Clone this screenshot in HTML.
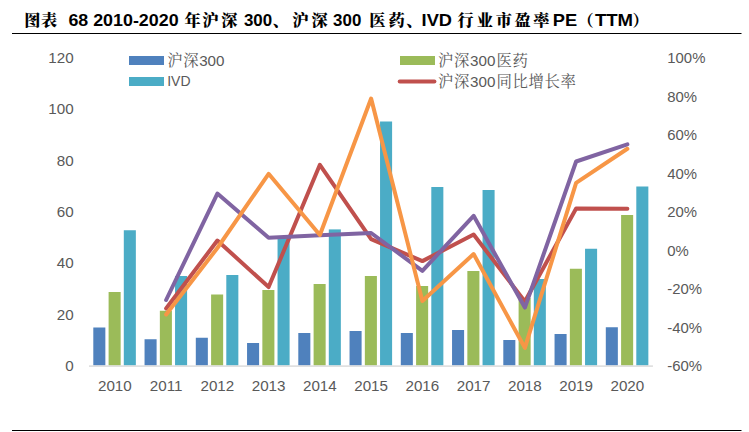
<!DOCTYPE html>
<html lang="zh-CN">
<head>
<meta charset="utf-8">
<title>图表 68 2010-2020 年沪深 300、沪深 300 医药、IVD 行业市盈率 PE（TTM）</title>
<style>
html,body{margin:0;padding:0;background:#fff;}
body{width:749px;height:432px;overflow:hidden;position:relative;}
svg{position:absolute;left:0;top:0;display:block;}
.t{font-weight:bold;fill:#000;font-size:17.3px;}
.a{font-family:"Liberation Sans",sans-serif;}
.k{font-family:"Liberation Serif","Noto Serif CJK SC",serif;font-weight:900;font-size:16.2px;}
.ax{font-family:"Liberation Sans",sans-serif;font-size:15.2px;fill:#595959;}
.lg{font-family:"Liberation Sans","Noto Serif CJK SC",sans-serif;font-size:15.2px;fill:#595959;}
.lk{font-family:"Noto Serif CJK SC",serif;font-size:15.4px;letter-spacing:0.6px;}
</style>
</head>
<body>
<svg width="749" height="432" viewBox="0 0 749 432">
<rect width="749" height="432" fill="#ffffff"/>
<text class="t"><tspan class="k" text-anchor="middle" x="32.25 51.2" y="26.4">图表</tspan> <tspan class="a" text-anchor="start" x="68.4" y="25.8" textLength="19.8" lengthAdjust="spacingAndGlyphs">68</tspan> <tspan class="a" text-anchor="start" x="93.2" y="25.8" textLength="85.4" lengthAdjust="spacingAndGlyphs">2010-2020</tspan> <tspan class="k" text-anchor="middle" x="192.5 210.25 231.4" y="26.4">年沪深</tspan> <tspan class="a" text-anchor="start" x="243.9" y="25.8" textLength="28.2" lengthAdjust="spacingAndGlyphs">300</tspan><tspan class="k" text-anchor="start" x="272.8" y="26.4">、</tspan><tspan class="k" text-anchor="middle" x="300.25 321.7" y="26.4">沪深</tspan> <tspan class="a" text-anchor="start" x="333.1" y="25.8" textLength="28.2" lengthAdjust="spacingAndGlyphs">300</tspan> <tspan class="k" text-anchor="middle" x="377.25 396.5" y="26.4">医药</tspan><tspan class="k" text-anchor="start" x="406.2" y="26.4">、</tspan><tspan class="a" text-anchor="start" x="421.6" y="25.8" textLength="30.4" lengthAdjust="spacingAndGlyphs">IVD</tspan> <tspan class="k" text-anchor="middle" x="465.5 484.75 503.75 522.5 543.6" y="26.4">行业市盈率</tspan> <tspan class="a" text-anchor="start" x="552.8" y="25.8" textLength="24.4" lengthAdjust="spacingAndGlyphs">PE</tspan><tspan class="k" text-anchor="end" x="593.8" y="26.4">（</tspan><tspan class="a" text-anchor="start" x="594.9" y="25.8" textLength="38.2" lengthAdjust="spacingAndGlyphs">TTM</tspan><tspan class="k" text-anchor="start" x="632.6" y="26.4">）</tspan></text>
<rect x="12" y="33" width="729.5" height="1" fill="#000"/>
<rect x="12" y="430" width="729.5" height="1" fill="#000"/>
<rect x="93.30" y="327.50" width="12.05" height="37.90" fill="#4f81bd"/>
<rect x="108.60" y="292.00" width="12.05" height="73.40" fill="#9bbb59"/>
<rect x="123.80" y="230.25" width="12.05" height="135.15" fill="#4bacc6"/>
<rect x="144.55" y="339.25" width="12.05" height="26.15" fill="#4f81bd"/>
<rect x="159.85" y="310.75" width="12.05" height="54.65" fill="#9bbb59"/>
<rect x="175.05" y="276.00" width="12.05" height="89.40" fill="#4bacc6"/>
<rect x="195.80" y="337.75" width="12.05" height="27.65" fill="#4f81bd"/>
<rect x="211.10" y="294.50" width="12.05" height="70.90" fill="#9bbb59"/>
<rect x="226.30" y="275.00" width="12.05" height="90.40" fill="#4bacc6"/>
<rect x="247.05" y="343.00" width="12.05" height="22.40" fill="#4f81bd"/>
<rect x="262.35" y="290.00" width="12.05" height="75.40" fill="#9bbb59"/>
<rect x="277.55" y="237.50" width="12.05" height="127.90" fill="#4bacc6"/>
<rect x="298.30" y="333.00" width="12.05" height="32.40" fill="#4f81bd"/>
<rect x="313.60" y="284.00" width="12.05" height="81.40" fill="#9bbb59"/>
<rect x="328.80" y="229.40" width="12.05" height="136.00" fill="#4bacc6"/>
<rect x="349.55" y="331.00" width="12.05" height="34.40" fill="#4f81bd"/>
<rect x="364.85" y="276.00" width="12.05" height="89.40" fill="#9bbb59"/>
<rect x="380.05" y="121.50" width="12.05" height="243.90" fill="#4bacc6"/>
<rect x="400.80" y="333.00" width="12.05" height="32.40" fill="#4f81bd"/>
<rect x="416.10" y="286.00" width="12.05" height="79.40" fill="#9bbb59"/>
<rect x="431.30" y="187.00" width="12.05" height="178.40" fill="#4bacc6"/>
<rect x="452.05" y="330.00" width="12.05" height="35.40" fill="#4f81bd"/>
<rect x="467.35" y="271.00" width="12.05" height="94.40" fill="#9bbb59"/>
<rect x="482.55" y="190.00" width="12.05" height="175.40" fill="#4bacc6"/>
<rect x="503.30" y="340.00" width="12.05" height="25.40" fill="#4f81bd"/>
<rect x="518.60" y="298.00" width="12.05" height="67.40" fill="#9bbb59"/>
<rect x="533.80" y="279.00" width="12.05" height="86.40" fill="#4bacc6"/>
<rect x="554.55" y="334.00" width="12.05" height="31.40" fill="#4f81bd"/>
<rect x="569.85" y="268.75" width="12.05" height="96.65" fill="#9bbb59"/>
<rect x="585.05" y="248.75" width="12.05" height="116.65" fill="#4bacc6"/>
<rect x="605.80" y="327.25" width="12.05" height="38.15" fill="#4f81bd"/>
<rect x="621.10" y="215.00" width="12.05" height="150.40" fill="#9bbb59"/>
<rect x="636.30" y="186.50" width="12.05" height="178.90" fill="#4bacc6"/>
<rect x="89.00" y="365.40" width="563.95" height="1.4" fill="#d9d9d9"/>
<polyline points="166.12,308.50 217.38,240.50 268.62,287.10 319.88,164.80 371.12,239.20 422.38,261.10 473.62,234.50 524.88,301.50 576.12,208.50 627.38,208.75" fill="none" stroke="#c0504d" stroke-width="4" stroke-linecap="round" stroke-linejoin="round"/>
<polyline points="166.12,300.00 217.38,193.60 268.62,237.80 319.88,235.30 371.12,233.00 422.38,270.80 473.62,215.80 524.88,307.60 576.12,161.50 627.38,144.30" fill="none" stroke="#8064a2" stroke-width="4" stroke-linecap="round" stroke-linejoin="round"/>
<polyline points="166.12,314.50 217.38,248.00 268.62,173.80 319.88,235.00 371.12,98.50 422.38,301.00 473.62,254.00 524.88,347.90 576.12,182.80 627.38,148.75" fill="none" stroke="#f79646" stroke-width="4" stroke-linecap="round" stroke-linejoin="round"/>
<text class="ax" text-anchor="end" x="73.7" y="371.00">0</text>
<text class="ax" text-anchor="end" x="73.7" y="319.67">20</text>
<text class="ax" text-anchor="end" x="73.7" y="268.33">40</text>
<text class="ax" text-anchor="end" x="73.7" y="217.00">60</text>
<text class="ax" text-anchor="end" x="73.7" y="165.66">80</text>
<text class="ax" text-anchor="end" x="73.7" y="114.33">100</text>
<text class="ax" text-anchor="end" x="73.7" y="63.00">120</text>
<text class="ax" style="font-size:14.9px" x="667.3" y="371.05">-60%</text>
<text class="ax" style="font-size:14.9px" x="667.3" y="332.58">-40%</text>
<text class="ax" style="font-size:14.9px" x="667.3" y="294.11">-20%</text>
<text class="ax" style="font-size:14.9px" x="667.3" y="255.64">0%</text>
<text class="ax" style="font-size:14.9px" x="667.3" y="217.17">20%</text>
<text class="ax" style="font-size:14.9px" x="667.3" y="178.70">40%</text>
<text class="ax" style="font-size:14.9px" x="667.3" y="140.23">60%</text>
<text class="ax" style="font-size:14.9px" x="667.3" y="101.76">80%</text>
<text class="ax" style="font-size:14.9px" x="667.3" y="63.29">100%</text>
<text class="ax" text-anchor="middle" x="114.88" y="390.7">2010</text>
<text class="ax" text-anchor="middle" x="166.12" y="390.7">2011</text>
<text class="ax" text-anchor="middle" x="217.38" y="390.7">2012</text>
<text class="ax" text-anchor="middle" x="268.62" y="390.7">2013</text>
<text class="ax" text-anchor="middle" x="319.88" y="390.7">2014</text>
<text class="ax" text-anchor="middle" x="371.12" y="390.7">2015</text>
<text class="ax" text-anchor="middle" x="422.38" y="390.7">2016</text>
<text class="ax" text-anchor="middle" x="473.62" y="390.7">2017</text>
<text class="ax" text-anchor="middle" x="524.88" y="390.7">2018</text>
<text class="ax" text-anchor="middle" x="576.12" y="390.7">2019</text>
<text class="ax" text-anchor="middle" x="627.38" y="390.7">2020</text>
<rect x="129" y="56" width="35" height="9" fill="#4f81bd"/>
<rect x="129" y="77" width="35" height="9" fill="#4bacc6"/>
<rect x="400" y="56" width="35" height="9" fill="#9bbb59"/>
<line x1="399.7" y1="81.6" x2="434.4" y2="81.6" stroke="#c0504d" stroke-width="4" stroke-linecap="round"/>
<text class="lg" x="167.2" y="66.2"><tspan class="lk">沪深</tspan>300</text>
<text class="lg" x="167.2" y="85.9" style="font-size:14.2px" textLength="23.3" lengthAdjust="spacingAndGlyphs">IVD</text>
<text class="lg" x="438" y="66.2"><tspan class="lk">沪深</tspan>300<tspan class="lk" dx="1.2">医药</tspan></text>
<text class="lg" x="438" y="87"><tspan class="lk">沪深</tspan>300<tspan class="lk" dx="1.2">同比增长率</tspan></text>
</svg>
</body>
</html>
